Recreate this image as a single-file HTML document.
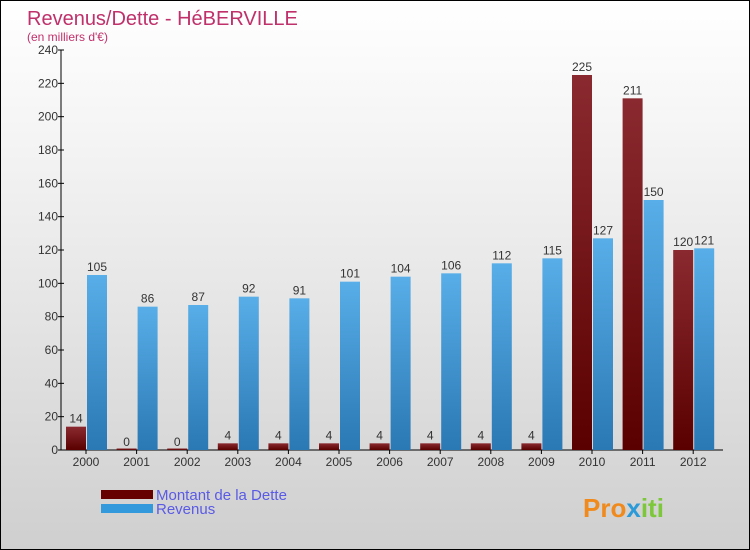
<!DOCTYPE html>
<html><head><meta charset="utf-8"><style>
body{margin:0}
#c{position:relative;width:748px;height:548px;border:1px solid #000;background:linear-gradient(#fff,#f2f2f2 30%,#cfcfcf);font-family:"Liberation Sans",sans-serif;overflow:hidden}
</style></head><body>
<div id="c">
<svg width="748" height="548">
<defs>
<linearGradient id="gd" x1="0" y1="0" x2="0" y2="1"><stop offset="0" stop-color="#8a2a30"/><stop offset="1" stop-color="#5a0000"/></linearGradient>
<linearGradient id="gr" x1="0" y1="0" x2="0" y2="1"><stop offset="0" stop-color="#58aee8"/><stop offset="1" stop-color="#2a78b4"/></linearGradient>
</defs>
<text x="26" y="24" font-size="20" fill="#c0306a">Revenus/Dette - HéBERVILLE</text>
<text x="26" y="40" font-size="12" fill="#c0306a">(en milliers d'€)</text>
<g id="plot"></g>
<rect x="100" y="489" width="52" height="9" fill="#660000"/>
<rect x="100" y="503" width="52" height="9" fill="#3399dd"/>
<text x="155" y="499" font-size="15" fill="#5a5ae6">Montant de la Dette</text>
<text x="155" y="513" font-size="15" fill="#5a5ae6">Revenus</text>
<text x="582" y="516" font-size="26" font-weight="bold" fill="#f08a1c">Pro<tspan fill="#2a9ad8">x</tspan><tspan fill="#7cc83a">iti</tspan></text>
</svg></div>
<script>
const years=["2000","2001","2002","2003","2004","2005","2006","2007","2008","2009","2010","2011","2012"];
const dette=[14,0,0,4,4,4,4,4,4,4,225,211,120];
const revenus=[105,86,87,92,91,101,104,106,112,115,127,150,121];
const ticks=[0,20,40,60,80,100,120,140,160,180,200,220,240];
const NS="http://www.w3.org/2000/svg";
const g=document.getElementById('plot');
const y0=449,y1=49,x0=60,x1=722;
const y=v=>y0-(v/240)*(y0-y1);
const cx=i=>85+i*50.6;
function mk(t,a){const e=document.createElementNS(NS,t);for(const k in a)e.setAttribute(k,a[k]);g.appendChild(e);return e;}
let ax=mk('line',{x1:x0,y1:y1,x2:x0,y2:y0,stroke:'#000'});


let bx=mk('line',{x1:x0,y1:y0,x2:x1,y2:y0,stroke:'#000'});


ticks.forEach(t=>{
 let l=mk('line',{x1:x0-3,y1:y(t),x2:x0+3,y2:y(t),stroke:'#000'});
 
 
 let tx=mk('text',{x:x0-3,y:y(t)+4,'font-size':12,'text-anchor':'end',fill:'#333'});
 tx.textContent=t;
 
 
});
years.forEach((yr,i)=>{
 const c=cx(i);
 let l=mk('line',{x1:c,y1:y0,x2:c,y2:y0+4,stroke:'#000'});
 
 
 let tx=mk('text',{x:c,y:y0+16,'font-size':12,'text-anchor':'middle',fill:'#333'});
 tx.textContent=yr;
 
 
 const hd=Math.max(y0-y(dette[i]),1.5);
 let b=mk('rect',{x:c-20,y:y0-hd,width:20,height:hd,fill:'url(#gd)'});
 
 
 let vt=mk('text',{x:c-10,y:y(dette[i])-4,'font-size':12,'text-anchor':'middle',fill:'#333'});
 vt.textContent=dette[i];
 
 
 let r=mk('rect',{x:c+1,y:y(revenus[i]),width:20,height:y0-y(revenus[i]),fill:'url(#gr)'});
 
 
 let rt=mk('text',{x:c+11,y:y(revenus[i])-4,'font-size':12,'text-anchor':'middle',fill:'#333'});
 rt.textContent=revenus[i];
 
 
});
</script>
</body></html>
